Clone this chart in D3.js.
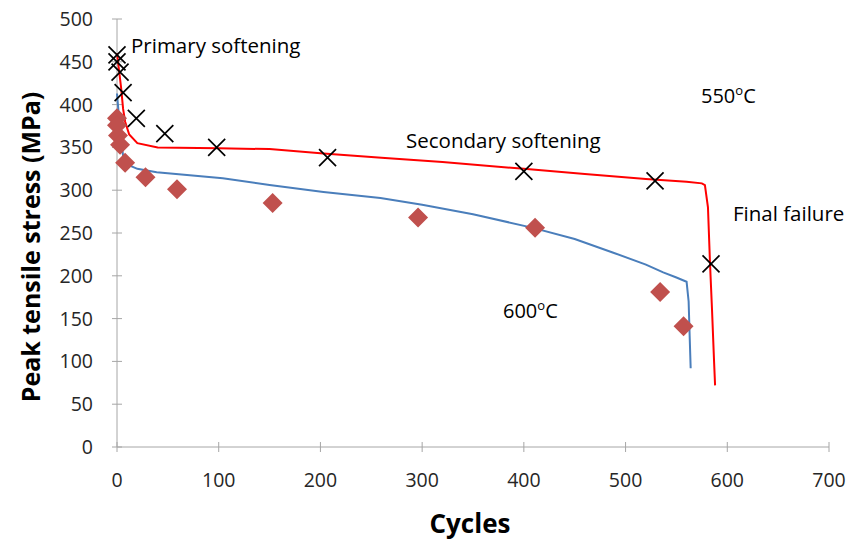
<!DOCTYPE html>
<html>
<head>
<meta charset="utf-8">
<script src="https://cdn.jsdelivr.net/npm/d3@7"></script>
<style>
body{margin:0;background:#fff}
text{font-family:"Open Sans",sans-serif}
</style>
</head>
<body>
<svg width="850" height="540"></svg>
<script>
// measured points
const cycles550=[0,0,3,6,19,47,98,207,400,529,584]
const stress550=[458,450,438,414,384,366,350,338,322,311,214]
const cycles600=[0,0,1,3,8,28,59,153,296,411,534,557]
const stress600=[384,376,364,353,332,315,301,285,268,256,181,141]
// fitted curves
const fit550Cycles=[0,2,4,6,8,12,20,40,100,150,203,260,320,400,460,520,560,575,578,581,583,585,587,588]
const fit550Stress=[460,440,420,395,380,365,355,350,349,348,343,338,333,325,319,313,310,308,306,280,215,160,100,72]
const fit600Cycles=[0,3,6,10,20,39,104,150,203,259,300,350,409,450,488,520,537,550,560,562,563,564]
const fit600Stress=[413,370,340,330,325,321,314,306,298,291,283,272,256,243,227,213,204,198,193,170,130,92]
const xTicks=[0,100,200,300,400,500,600,700]
const yTicks=[0,50,100,150,200,250,300,350,400,450,500]
const notes=[
 {t:"Primary softening",x:131,y:53},
 {t:"Secondary softening",x:406,y:148},
 {t:"Final failure",x:733,y:221},
]

const svg=d3.select("svg")
const mL=117,mR=829,mT=19,mB=447
const x=d3.scaleLinear().domain([0,700]).range([mL,mR])
const y=d3.scaleLinear().domain([0,500]).range([mB,mT])
const grey="#a6a6a6"

// axes
const ax=svg.append("g")
ax.append("line").attr("x1",mL).attr("x2",mR).attr("y1",mB).attr("y2",mB).attr("stroke",grey)
ax.append("line").attr("x1",mL).attr("x2",mL).attr("y1",mT).attr("y2",mB).attr("stroke",grey)
ax.selectAll(".xt").data(xTicks).join("line").attr("x1",d=>x(d)).attr("x2",d=>x(d))
  .attr("y1",mB-5).attr("y2",mB+5).attr("stroke",grey)
ax.selectAll(".yt").data(yTicks).join("line").attr("y1",d=>y(d)).attr("y2",d=>y(d))
  .attr("x1",mL-5).attr("x2",mL+5).attr("stroke",grey)
ax.selectAll(".xl").data(xTicks).join("text").attr("x",d=>x(d)).attr("y",mB+40)
  .attr("text-anchor","middle").attr("font-size",19.5).attr("fill","#262626").text(d=>d)
ax.selectAll(".yl").data(yTicks).join("text").attr("x",mL-24).attr("y",d=>y(d)+7)
  .attr("text-anchor","end").attr("font-size",19.5).attr("fill","#262626").text(d=>d)

svg.append("text").attr("x",470).attr("y",533).attr("text-anchor","middle")
  .attr("font-size",26).attr("font-weight","bold").text("Cycles")
svg.append("text").attr("transform",`translate(40,247) rotate(-90)`)
  .attr("text-anchor","middle").attr("font-size",25).attr("font-weight","bold").text("Peak tensile stress (MPa)")

// curves
const line=d3.line().x(d=>x(d[0])).y(d=>y(d[1]))
svg.append("path").datum(d3.zip(fit600Cycles,fit600Stress)).attr("d",line)
  .attr("fill","none").attr("stroke","#4a7ebb").attr("stroke-width",2)
svg.append("path").datum(d3.zip(fit550Cycles,fit550Stress)).attr("d",line)
  .attr("fill","none").attr("stroke","#ff0000").attr("stroke-width",2)

// 600 diamonds
svg.selectAll(".dm").data(d3.zip(cycles600,stress600)).join("path")
  .attr("transform",d=>`translate(${x(d[0])},${y(d[1])})`)
  .attr("d","M0,-10L10,0L0,10L-10,0Z").attr("fill","#c0504d")

// 550 crosses
svg.selectAll(".cx").data(d3.zip(cycles550,stress550)).join("path")
  .attr("transform",d=>`translate(${x(d[0])},${y(d[1])})`)
  .attr("d","M-8.5,-8.5L8.5,8.5M-8.5,8.5L8.5,-8.5").attr("stroke","#000").attr("stroke-width",1.7).attr("fill","none")

// labels
svg.selectAll(".nt").data(notes).join("text").attr("x",d=>d.x).attr("y",d=>d.y)
  .attr("font-size",20.5).text(d=>d.t)
const temp=[{a:"550",x:701,y:103},{a:"600",x:503,y:318}]
temp.forEach(t=>{
  const tx=svg.append("text").attr("x",t.x).attr("y",t.y).attr("font-size",20)
  tx.append("tspan").text(t.a)
  tx.append("tspan").attr("font-size",13).attr("dy",-8).text("o")
  tx.append("tspan").attr("dy",8).text("C")
})
</script>
</body>
</html>
